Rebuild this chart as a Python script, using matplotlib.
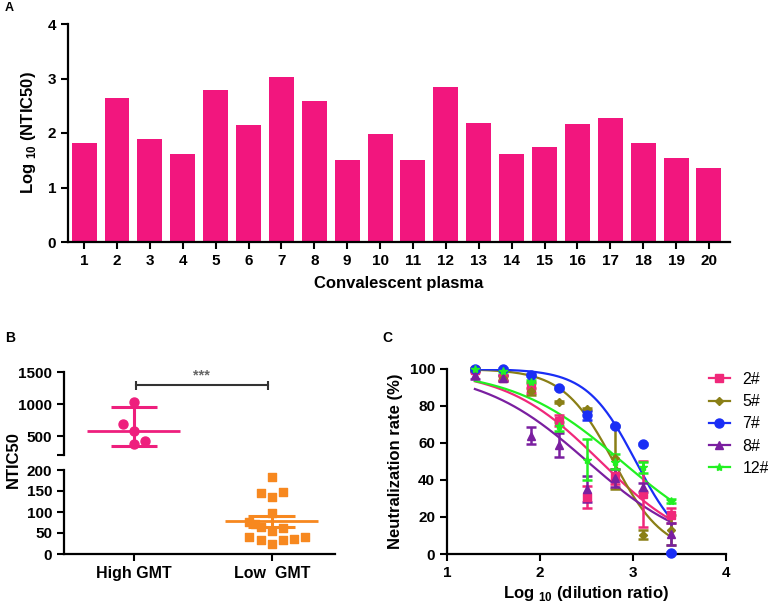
import numpy as np
import matplotlib
matplotlib.use("Agg")
import matplotlib.pyplot as plt
from matplotlib.lines import Line2D

plt.rcParams['font.family'] = ['Liberation Sans', 'DejaVu Sans']
plt.rcParams['font.weight'] = 'bold'
plt.rcParams['axes.labelweight'] = 'bold'
plt.rcParams['mathtext.fontset'] = 'custom'
plt.rcParams['mathtext.rm'] = 'Liberation Sans:bold'
plt.rcParams['mathtext.bf'] = 'Liberation Sans:bold'

# A: log10 NTIC50 of each convalescent plasma
plasma_ids = list(range(1, 21))
log_ntic50 = [1.81, 2.64, 1.89, 1.62, 2.78, 2.14, 3.02, 2.59, 1.51, 1.99,
              1.50, 2.85, 2.18, 1.61, 1.74, 2.16, 2.27, 1.81, 1.54, 1.36]

# B: NTIC50 groups
groups = ['High GMT', 'Low  GMT']
high_vals = [1026, 697, 577, 376, 423]
high_jitter = [0, -0.08, 0, 0, 0.08]
high_center, high_lo, high_hi = 578, 348, 953
low_vals = [183, 145, 136, 147, 98, 77, 72, 65, 55, 63, 40, 33, 23, 33, 35, 41]
low_jitter = [0, -0.08, 0, 0.08, 0, -0.165, -0.12, -0.08, 0, 0.08, -0.165, -0.08, 0, 0.08, 0.16, 0.24]
low_center, low_lo, low_hi = 78, 65, 90

# C: neutralization curves
log_dil = [1.30, 1.60, 1.90, 2.20, 2.51, 2.81, 3.11, 3.41]
series = ['2#', '5#', '7#', '8#', '12#']
neut = {
    '2#':  [99.5, 95, 90, 72, 31, 42, 32.5, 21],
    '5#':  [99.5, 95, 88, 82, 78.5, 52, 10.5, 13],
    '7#':  [100, 100, 96.8, 89.6, 75, 69.2, 59.3, 0.7],
    '8#':  [96.8, 95, 64, 59, 35, 41, 36, 11],
    '12#': [99.8, 99, 93.2, 69, 51, 50, 46.8, 28.5],
}
neut_err = {
    '2#':  [1, 1.5, 3, 3, 6, 4, 18, 4],
    '5#':  [0.5, 1, 2, 0.5, 0.5, 17, 2.5, 8],
    '7#':  [0.3, 0.3, 0.5, 0.5, 2.5, 0.5, 0.5, 0.5],
    '8#':  [2, 1.5, 4.5, 6.5, 7, 5, 2.5, 6],
    '12#': [0.5, 0.5, 1, 2.5, 11, 4, 3, 1],
}
# 4PL fit: bottom, top, logIC50, hill
fit_bottom = [0, 0, 0, 0, 0]
fit_top = [100, 100, 100, 100, 100]
fit_logic50 = [2.65, 2.79, 3.03, 2.51, 2.88]
fit_hill = [0.85, 1.6, 1.65, 0.757, 0.735]

colors = {'2#': '#F0287A', '5#': '#8A7F16', '7#': '#1A2EF5', '8#': '#7A1FA0', '12#': '#22F022'}
markers = {'2#': 's', '5#': 'D', '7#': 'o', '8#': '^', '12#': '*'}
msizes = {'2#': 6, '5#': 4, '7#': 6.5, '8#': 6, '12#': 6}

bar_pink = '#F2167E'
pink = '#EE1F7D'
orange = '#F7881F'

W, H = 768, 615
fig = plt.figure(figsize=(W / 100, H / 100), dpi=100)


def px_axes(x0, y0, x1, y1):
    return fig.add_axes([x0 / W, 1 - y1 / H, (x1 - x0) / W, (y1 - y0) / H])


def style(ax):
    for s in ['top', 'right']:
        ax.spines[s].set_visible(False)
    for s in ['left', 'bottom']:
        ax.spines[s].set_linewidth(1.6)
    ax.tick_params(direction='out', length=5, width=1.5, labelsize=11)


# ---------- A ----------
axA = px_axes(68, 24, 730, 242)
style(axA)
axA.bar(plasma_ids, log_ntic50, width=0.76, color=bar_pink)
axA.set_xlim(0.51, 20.64)
axA.set_ylim(0, 4)
axA.set_yticks([0, 1, 2, 3, 4])
axA.set_xticks(plasma_ids)
axA.set_xlabel('Convalescent plasma', fontsize=12, labelpad=6)
axA.set_ylabel(r'Log $_{10}$ (NTIC50)', fontsize=12, labelpad=7)
fig.text(5 / W, 1 - 8 / H, 'A', fontsize=9, va='center', ha='left')

# ---------- B ----------
xl = (-0.507, 1.457)
axBt = px_axes(64, 372, 335, 455.4)
axBb = px_axes(64, 470, 335, 554)
style(axBt)
style(axBb)
axBt.spines['bottom'].set_visible(False)
axBt.tick_params(axis='x', bottom=False, labelbottom=False)
axBt.set_xlim(*xl)
axBb.set_xlim(*xl)
axBt.set_ylim(200, 1500)
axBb.set_ylim(0, 200)
axBt.set_yticks([200, 500, 1000, 1500])
axBt.set_yticklabels(['', '500', '1000', '1500'])
axBb.set_yticks([0, 50, 100, 150, 200])
axBb.set_xticks([0, 1])
axBb.set_xticklabels(groups, fontsize=11.5)

axBt.scatter(np.array(high_jitter), high_vals, s=42, color=pink, zorder=3, clip_on=False)
axBt.hlines(high_center, -0.337, 0.337, color=pink, lw=2)
axBt.hlines([high_lo, high_hi], -0.17, 0.17, color=pink, lw=2.2)
axBt.vlines(0, high_lo, high_hi, color=pink, lw=2.2)

axBb.scatter(1 + np.array(low_jitter), low_vals, s=40, marker='s', color=orange, zorder=3, clip_on=False)
axBb.hlines(low_center, 1 - 0.337, 1 + 0.337, color=orange, lw=2)
axBb.hlines([low_lo, low_hi], 1 - 0.17, 1 + 0.17, color=orange, lw=2.2)
axBb.vlines(1, low_lo, low_hi, color=orange, lw=2.2)

# significance bracket
axBt.plot([0.015, 0.975], [1290, 1290], color='#333333', lw=1.5)
axBt.vlines([0.015, 0.975], 1215, 1365, color='#333333', lw=1.5)
axBt.text(0.49, 1440, '***', ha='center', va='center', fontsize=10.5, color='#666666')
fig.text(13 / W, 1 - 460 / H, 'NTIC50', rotation=90, fontsize=12, ha='center', va='center')
fig.text(5 / W, 1 - 338 / H, 'B', fontsize=10, va='center', ha='left')

# ---------- C ----------
axC = px_axes(447, 369, 726, 554)
style(axC)
axC.set_xlim(1, 4)
axC.set_ylim(0, 100)
axC.set_xticks([1, 2, 3, 4])
axC.set_yticks([0, 20, 40, 60, 80, 100])
xs = np.linspace(log_dil[0], log_dil[-1], 200)
handles = []
for i, name in enumerate(series):
    c = colors[name]
    curve = fit_bottom[i] + (fit_top[i] - fit_bottom[i]) / (1 + 10 ** ((xs - fit_logic50[i]) * fit_hill[i]))
    axC.plot(xs, curve, color=c, lw=1.6, zorder=2)
    axC.errorbar(log_dil, neut[name], yerr=neut_err[name], fmt=markers[name], color=c,
                 ms=msizes[name], elinewidth=1.8, capsize=3.5, capthick=1.8, zorder=3, clip_on=False)
    handles.append(Line2D([], [], color=c, marker=markers[name], ms=msizes[name], lw=1.6))
axC.set_xlabel(r'Log $_{10}$ (dilution ratio)', fontsize=12, labelpad=3)
axC.set_ylabel('Neutralization rate (%)', fontsize=12, labelpad=5)
fig.legend(handles, series, loc='upper left', bbox_to_anchor=(709 / W, 1 - 372 / H),
           frameon=False, borderpad=0, borderaxespad=0, handlelength=1.3,
           handletextpad=0.8, labelspacing=0.45, prop={'weight': 'normal', 'size': 11.5})
fig.text(382 / W, 1 - 338 / H, 'C', fontsize=10, va='center', ha='left')

fig.savefig('out.png', dpi=100)
